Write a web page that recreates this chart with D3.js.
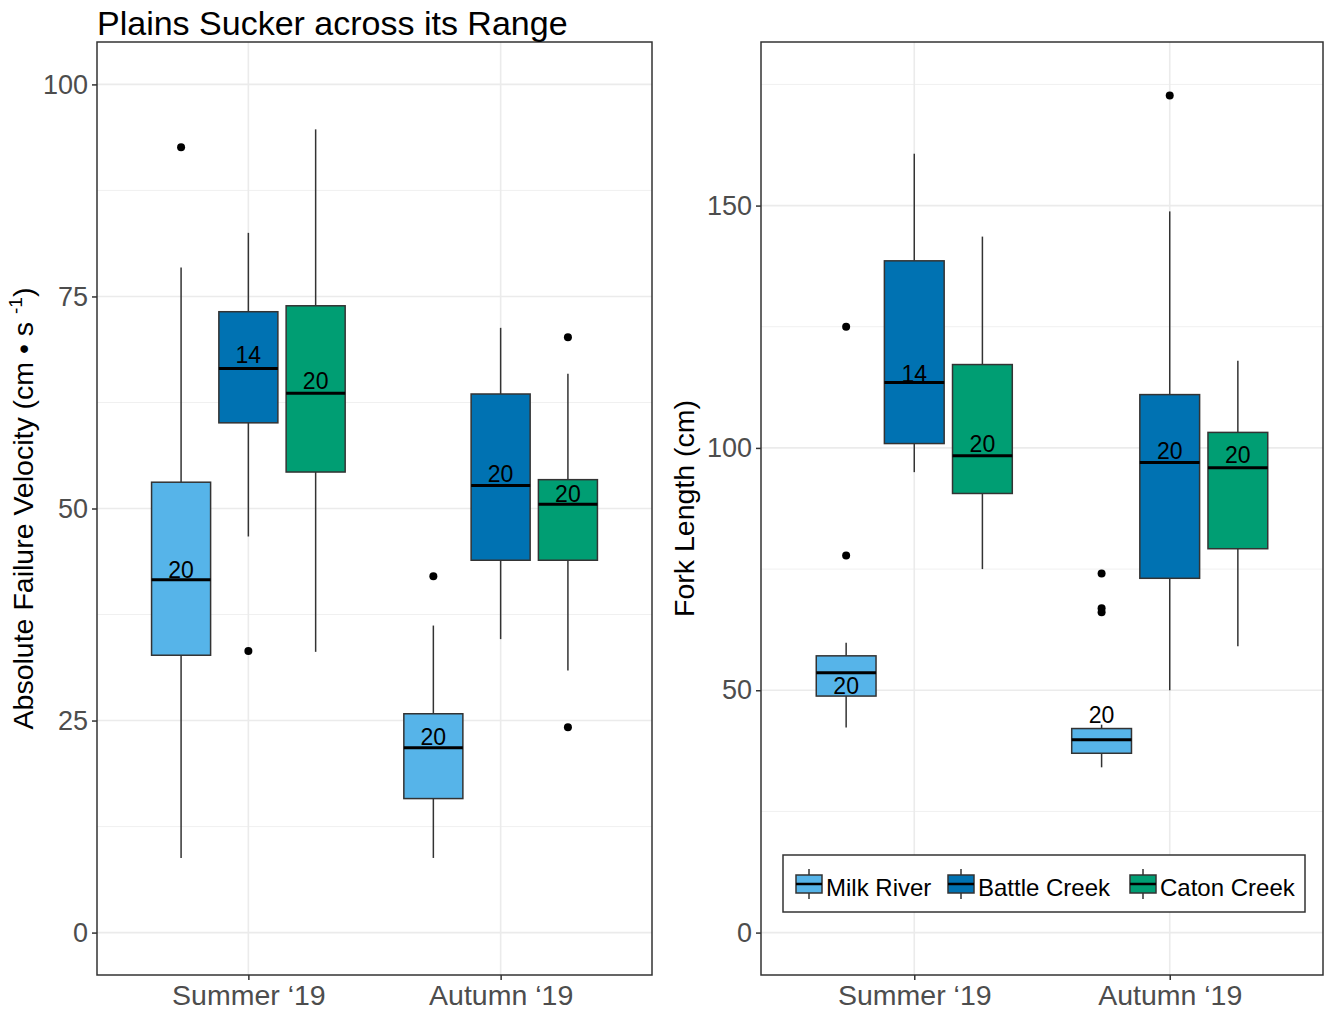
<!DOCTYPE html>
<html>
<head>
<meta charset="utf-8">
<script src="https://cdn.jsdelivr.net/npm/d3@7"></script>
<style>
  body { margin: 0; background: #ffffff; }
  text { font-family: "Liberation Sans", Arial, Helvetica, sans-serif; }
</style>
</head>
<body>
<svg id="chart" width="1325" height="1011"></svg>
<script>
// ---- data ----------------------------------------------------------
const seasons = ["Summer ‘19", "Autumn ‘19"];
const sites = ["Milk River", "Battle Creek", "Caton Creek"];
const siteColors = ["#56B4E9", "#0072B2", "#009E73"];

// each array: one value per season × site (Summer: Milk, Battle, Caton; Autumn: Milk, Battle, Caton)
const velLow  = [8.8, 46.7, 33.1, 8.8, 34.6, 30.9];
const velQ1   = [32.7, 60.1, 54.3, 15.8, 43.9, 43.9];
const velMed  = [41.6, 66.5, 63.6, 21.8, 52.7, 50.5];
const velQ3   = [53.1, 73.2, 73.9, 25.8, 63.5, 53.4];
const velHigh = [78.4, 82.5, 94.7, 36.2, 71.3, 65.9];
const velOut  = [[92.6], [33.2], [], [42.0], [], [70.2, 24.2]];
const velN    = [20, 14, 20, 20, 20, 20];
const velNLabelY = [41.8, 67.1, 64.1, 22.1, 53.1, 50.8];

const lenLow  = [42.3, 95.0, 75.0, 34.1, 50.0, 59.1];
const lenQ1   = [48.8, 100.9, 90.6, 37.0, 73.1, 79.2];
const lenMed  = [53.6, 113.5, 98.4, 39.8, 97.0, 95.9];
const lenQ3   = [57.1, 138.6, 117.2, 42.1, 111.0, 103.2];
const lenHigh = [59.8, 160.7, 143.6, 42.9, 148.8, 118.0];
const lenOut  = [[125.0, 77.8], [], [], [74.1, 66.9, 66.1], [172.7], []];
const lenN    = [20, 14, 20, 20, 20, 20];
const lenNLabelY = [49.3, 113.5, 99.1, 43.2, 97.7, 96.8];

const velTicks = [0, 25, 50, 75, 100];
const velMinor = [12.5, 37.5, 62.5, 87.5];
const lenTicks = [0, 50, 100, 150];
const lenMinor = [25, 75, 125, 175];

// ---- drawing -------------------------------------------------------
const svg = d3.select("#chart");
const ink = "#333333";

function rows(low, q1, med, q3, high, out, n, labelY) {
  return low.map((d, i) => ({
    season: seasons[Math.floor(i / 3)],
    site: i % 3,
    low: d, q1: q1[i], med: med[i], q3: q3[i], high: high[i],
    out: out[i], n: n[i], labelY: labelY[i]
  }));
}

function panel(cfg) {
  const { x0, x1, y0, y1, domain, ticks, minor, data, title, titleX } = cfg;
  const g = svg.append("g");
  const x = d3.scalePoint().domain(seasons).range([x0, x1]).padding(0.6);
  const y = d3.scaleLinear().domain(domain).range([y1, y0]);
  const step = x.step();
  const dodge = step * 0.2667;
  const boxW = step * 0.234;

  // grid
  g.selectAll(".minor").data(minor).join("line")
    .attr("x1", x0).attr("x2", x1).attr("y1", d => y(d)).attr("y2", d => y(d))
    .attr("stroke", "#f0f0f0").attr("stroke-width", 1);
  g.selectAll(".major").data(ticks).join("line")
    .attr("x1", x0).attr("x2", x1).attr("y1", d => y(d)).attr("y2", d => y(d))
    .attr("stroke", "#ebebeb").attr("stroke-width", 1.6);
  g.selectAll(".vmajor").data(seasons).join("line")
    .attr("x1", d => x(d)).attr("x2", d => x(d)).attr("y1", y0).attr("y2", y1)
    .attr("stroke", "#ebebeb").attr("stroke-width", 1.6);

  const cx = d => x(d.season) + (d.site - 1) * dodge;
  const boxes = g.selectAll(".box").data(data).join("g");

  boxes.append("line")
    .attr("x1", cx).attr("x2", cx).attr("y1", d => y(d.q3)).attr("y2", d => y(d.high))
    .attr("stroke", ink).attr("stroke-width", 1.5);
  boxes.append("line")
    .attr("x1", cx).attr("x2", cx).attr("y1", d => y(d.q1)).attr("y2", d => y(d.low))
    .attr("stroke", ink).attr("stroke-width", 1.5);
  boxes.append("rect")
    .attr("x", d => cx(d) - boxW / 2).attr("width", boxW)
    .attr("y", d => y(d.q3)).attr("height", d => y(d.q1) - y(d.q3))
    .attr("fill", d => siteColors[d.site]).attr("stroke", ink).attr("stroke-width", 1.5);
  boxes.append("line")
    .attr("x1", d => cx(d) - boxW / 2).attr("x2", d => cx(d) + boxW / 2)
    .attr("y1", d => y(d.med)).attr("y2", d => y(d.med))
    .attr("stroke", "#000").attr("stroke-width", 3);
  boxes.selectAll("circle").data(d => d.out.map(v => ({ v, d }))).join("circle")
    .attr("cx", o => cx(o.d)).attr("cy", o => y(o.v)).attr("r", 4).attr("fill", "#000");
  boxes.append("text")
    .attr("x", cx).attr("y", d => y(d.labelY))
    .attr("text-anchor", "middle").attr("font-size", 23).attr("fill", "#000")
    .text(d => d.n);

  // panel border
  g.append("rect").attr("x", x0).attr("y", y0).attr("width", x1 - x0).attr("height", y1 - y0)
    .attr("fill", "none").attr("stroke", ink).attr("stroke-width", 1.5);

  // axes
  const ya = g.append("g").attr("transform", `translate(${x0},0)`)
    .call(d3.axisLeft(y).tickValues(ticks).tickSize(5).tickPadding(4));
  ya.select(".domain").remove();
  ya.selectAll("line").attr("stroke", ink).attr("stroke-width", 1.5);
  ya.selectAll("text").attr("font-size", 27).attr("fill", "#4d4d4d")
    .attr("font-family", '"Liberation Sans", Arial, sans-serif');

  const xa = g.append("g").attr("transform", `translate(0,${y1})`)
    .call(d3.axisBottom(x).tickSize(5).tickPadding(5));
  xa.select(".domain").remove();
  xa.selectAll("line").attr("stroke", ink).attr("stroke-width", 1.5);
  xa.selectAll("text").attr("font-size", 28.5).attr("fill", "#4d4d4d")
    .attr("font-family", '"Liberation Sans", Arial, sans-serif');

  const t = g.append("text")
    .attr("transform", `translate(${titleX},${(y0 + y1) / 2}) rotate(-90)`)
    .attr("text-anchor", "middle").attr("font-size", 28.5).attr("fill", "#000");
  title(t);
  return { x, y, g };
}

panel({
  x0: 97, x1: 652, y0: 42, y1: 975, domain: [-5, 105],
  ticks: velTicks, minor: velMinor,
  data: rows(velLow, velQ1, velMed, velQ3, velHigh, velOut, velN, velNLabelY),
  titleX: 33,
  title: t => {
    t.append("tspan").text("Absolute Failure Velocity (cm • s ");
    t.append("tspan").attr("font-size", 19).attr("dy", -11).text("-1");
    t.append("tspan").attr("dy", 11).text(")");
  }
});

panel({
  x0: 761, x1: 1323, y0: 42, y1: 975, domain: [-8.75, 183.75],
  ticks: lenTicks, minor: lenMinor,
  data: rows(lenLow, lenQ1, lenMed, lenQ3, lenHigh, lenOut, lenN, lenNLabelY),
  titleX: 694,
  title: t => t.text("Fork Length (cm)")
});

// plot title
svg.append("text").attr("x", 97).attr("y", 35)
  .attr("font-size", 34).attr("fill", "#000")
  .text("Plains Sucker across its Range");

// legend inside the right panel
const legend = svg.append("g");
legend.append("rect").attr("x", 783).attr("y", 855).attr("width", 522).attr("height", 57)
  .attr("fill", "#fff").attr("stroke", ink).attr("stroke-width", 1.5);
const keyX = [796, 948, 1130];
const keyY = 884;
const items = legend.selectAll(".item").data(sites).join("g")
  .attr("transform", (d, i) => `translate(${keyX[i]},${keyY})`);
items.append("line").attr("x1", 13).attr("x2", 13).attr("y1", -15).attr("y2", 15)
  .attr("stroke", ink).attr("stroke-width", 1.5);
items.append("rect").attr("x", 0).attr("y", -9).attr("width", 26).attr("height", 18)
  .attr("fill", (d, i) => siteColors[i]).attr("stroke", ink).attr("stroke-width", 1.5);
items.append("line").attr("x1", 0).attr("x2", 26).attr("y1", 0).attr("y2", 0)
  .attr("stroke", "#000").attr("stroke-width", 2.5);
items.append("text").attr("x", 30).attr("y", 12)
  .attr("font-size", 24).attr("fill", "#000").text(d => d);
</script>
</body>
</html>
